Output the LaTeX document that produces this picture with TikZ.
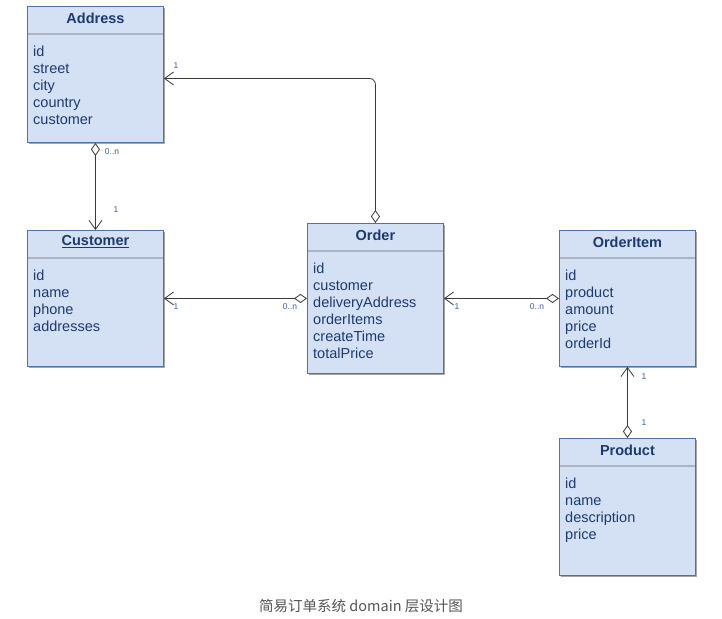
\documentclass[tikz,border=0pt]{standalone}
\usepackage{fontspec}
\setmainfont{Liberation Sans}
\newfontfamily\cjk{Noto Sans CJK SC}
\usetikzlibrary{arrows.meta,shadows}
\definecolor{boxfill}{HTML}{D4E1F5}
\definecolor{boxline}{HTML}{4F72A8}
\definecolor{txt}{HTML}{1C3A6E}
\definecolor{divcol}{HTML}{A9B4C4}
\definecolor{lblcol}{HTML}{3D5E99}
\definecolor{conncol}{HTML}{3A3A3A}
\definecolor{capcol}{HTML}{555555}
\begin{document}
\begin{tikzpicture}[x=1pt,y=-1pt,
 umlbox/.style={draw=boxline, fill=boxfill, line width=0.9pt, inner sep=0pt, anchor=north west, minimum width=136pt, drop shadow={shadow xshift=2pt,shadow yshift=-2pt,fill=black,opacity=0.35}},
 head/.style={font=\fontsize{14.5}{17}\selectfont\bfseries, text=txt, inner sep=0pt},
 fields/.style={font=\fontsize{14.5}{17}\selectfont, text=txt, align=left, inner sep=0pt, anchor=north west},
 divider/.style={draw=divcol, line width=1.2pt},
 lbl/.style={font=\fontsize{8.5}{9}\selectfont, text=lblcol, inner sep=0pt},
 conn/.style={draw=conncol, line width=0.8pt, {Diamond[fill=white,length=13pt,width=9pt]}-{Straight Barb[length=9pt,width=13pt]}}
]
\fill[white] (0,0) rectangle (722,618);
\useasboundingbox (0,0) rectangle (722,618);

% boxes
\node[umlbox, minimum height=136pt] (addr) at (27,6) {};
\node[umlbox, minimum height=136pt] (cust) at (27,230) {};
\node[umlbox, minimum height=150pt] (ord) at (307,223) {};
\node[umlbox, minimum height=136pt] (item) at (559,230) {};
\node[umlbox, minimum height=137pt] (prod) at (559,438) {};

% dividers
\foreach \b in {addr,cust,ord,item,prod}
  \draw[divider] ([yshift=-28pt,xshift=0.5pt]\b.north west) -- ([yshift=-28pt,xshift=-0.5pt]\b.north east);

% headers
\node[head] (addrh) at ([yshift=-12pt]addr.north) {Address};
\node[head] (custh) at ([yshift=-12pt]cust.north) {\underline{Customer}};
\node[head] (ordh) at ([yshift=-12pt]ord.north) {Order};
\node[head] (itemh) at ([yshift=-12pt]item.north) {OrderItem};
\node[head] (prodh) at ([yshift=-12pt]prod.north) {Product};

% fields
\node[fields] (addrf) at ([xshift=6pt,yshift=-39.5pt]addr.north west) {id\\street\\city\\country\\customer};
\node[fields] (custf) at ([xshift=6pt,yshift=-39.5pt]cust.north west) {id\\name\\phone\\addresses};
\node[fields] (ordf) at ([xshift=6pt,yshift=-39.5pt]ord.north west) {id\\customer\\deliveryAddress\\orderItems\\createTime\\totalPrice};
\node[fields] (itemf) at ([xshift=6pt,yshift=-39.5pt]item.north west) {id\\product\\amount\\price\\orderId};
\node[fields] (prodf) at ([xshift=6pt,yshift=-39.5pt]prod.north west) {id\\name\\description\\price};

% connectors
\draw[conn] (addr.south) -- (cust.north);
\draw[conn, rounded corners=6pt] (ord.north) |- ([yshift=-4pt]addr.east);
\draw[conn] (ord.west) -- (cust.east);
\draw[conn] (item.west) -- (ord.east);
\draw[conn] (prod.north) -- (item.south);

% multiplicities
\node[lbl] (l1) at (112,152) {0..n};
\node[lbl] (l2) at (116,210) {1};
\node[lbl] (l3) at (176,66) {1};
\node[lbl] (l4) at (176,307) {1};
\node[lbl] (l5) at (290,307) {0..n};
\node[lbl] (l6) at (457,307) {1};
\node[lbl] (l7) at (537,307) {0..n};
\node[lbl] (l8) at (644,377) {1};
\node[lbl] (l9) at (644,423) {1};

% caption
\node[font=\cjk\fontsize{14.5}{16}\selectfont, text=capcol, inner sep=0pt] (cap) at (361,606) {简易订单系统 domain 层设计图};
\end{tikzpicture}
\end{document}
